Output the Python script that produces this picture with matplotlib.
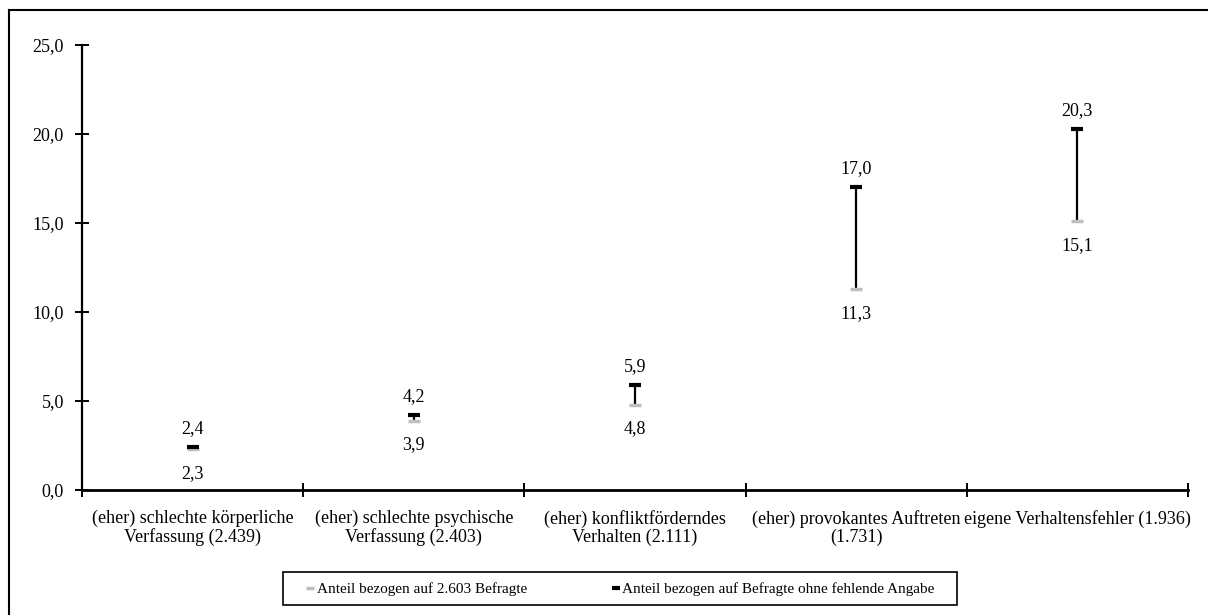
import matplotlib
matplotlib.use("Agg")
import matplotlib.pyplot as plt
from matplotlib.lines import Line2D
from matplotlib.patches import Rectangle

categories = [
    "(eher) schlechte körperliche\nVerfassung (2.439)",
    "(eher) schlechte psychische\nVerfassung (2.403)",
    "(eher) konfliktförderndes\nVerhalten (2.111)",
    "(eher) provokantes Auftreten\n(1.731)",
    "eigene Verhaltensfehler (1.936)",
]
share_all = [2.3, 3.9, 4.8, 11.3, 15.1]
share_valid = [2.4, 4.2, 5.9, 17.0, 20.3]
label_all = "Anteil bezogen auf 2.603 Befragte"
label_valid = "Anteil bezogen auf Befragte ohne fehlende Angabe"
yticks = [0, 5, 10, 15, 20, 25]

plt.rcParams['font.family'] = ['Liberation Serif', 'DejaVu Serif']

W, H = 1208, 615
fig = plt.figure(figsize=(W / 100, H / 100), dpi=100)
ax = fig.add_axes([82 / W, 1 - 490 / H, (1188 - 82) / W, (490 - 45) / H])

n = len(categories)
xs = list(range(n))
ax.set_xlim(-0.5, n - 0.5)
ax.set_ylim(0, 25)

gray = "#bfbfbf"
ax.vlines(xs, share_all, share_valid, color="black", lw=1.6, zorder=2)
ax.plot(xs, share_all, ls="none", marker="_", ms=8.5, mew=2.5, color=gray, zorder=3)
ax.plot(xs, share_valid, ls="none", marker="_", ms=8.5, mew=3, color="black", zorder=4)

def fmt(v):
    return f"{v:.1f}".replace(".", ",")

for x, a, v in zip(xs, share_all, share_valid):
    ax.annotate(fmt(v), (x, v), xytext=(0, 10), textcoords="offset pixels",
                ha="center", va="bottom", fontsize=13)
    ax.annotate(fmt(a), (x, a), xytext=(0, -16), textcoords="offset pixels",
                ha="center", va="top", fontsize=13)

ax.set_yticks(yticks)
ax.set_yticklabels([fmt(t) for t in yticks], fontsize=13)
ax.set_xticks([i - 0.5 for i in range(n + 1)])
ax.set_xticklabels([])
ax.tick_params(axis="both", direction="inout", length=10, width=1.4)
ax.tick_params(axis="y", pad=8)
for x, c in zip(xs, categories):
    ax.text(x, -0.045, c, transform=ax.get_xaxis_transform(), ha="center",
            va="top", fontsize=13, linespacing=1.02)

for s in ["top", "right"]:
    ax.spines[s].set_visible(False)
ax.spines["left"].set_linewidth(1.6)
ax.spines["bottom"].set_linewidth(2.0)

# outer frame
fig.add_artist(Line2D([9 / W, 9 / W], [0, 1 - 10 / H], transform=fig.transFigure, color="black", lw=1.5))
fig.add_artist(Line2D([9 / W, 1], [1 - 10 / H, 1 - 10 / H], transform=fig.transFigure, color="black", lw=1.5))

# legend box
fig.add_artist(Rectangle((283 / W, 1 - 605 / H), (957 - 283) / W, 33 / H,
                         transform=fig.transFigure, fill=False, ec="black", lw=1.2))

handles = [
    Line2D([], [], ls="none", marker="_", ms=6, mew=2.5, color=gray),
    Line2D([], [], ls="none", marker="_", ms=6, mew=3, color="black"),
]
leg = fig.legend(handles, [label_all, label_valid], loc="center",
                 bbox_to_anchor=((283 + 957) / 2 / W, 1 - 589 / H), ncol=2,
                 fontsize=11, frameon=False,
                 handlelength=0.6, handletextpad=0.15, columnspacing=5.5,
                 borderpad=0.3)

fig.savefig("out.png", dpi=100)
